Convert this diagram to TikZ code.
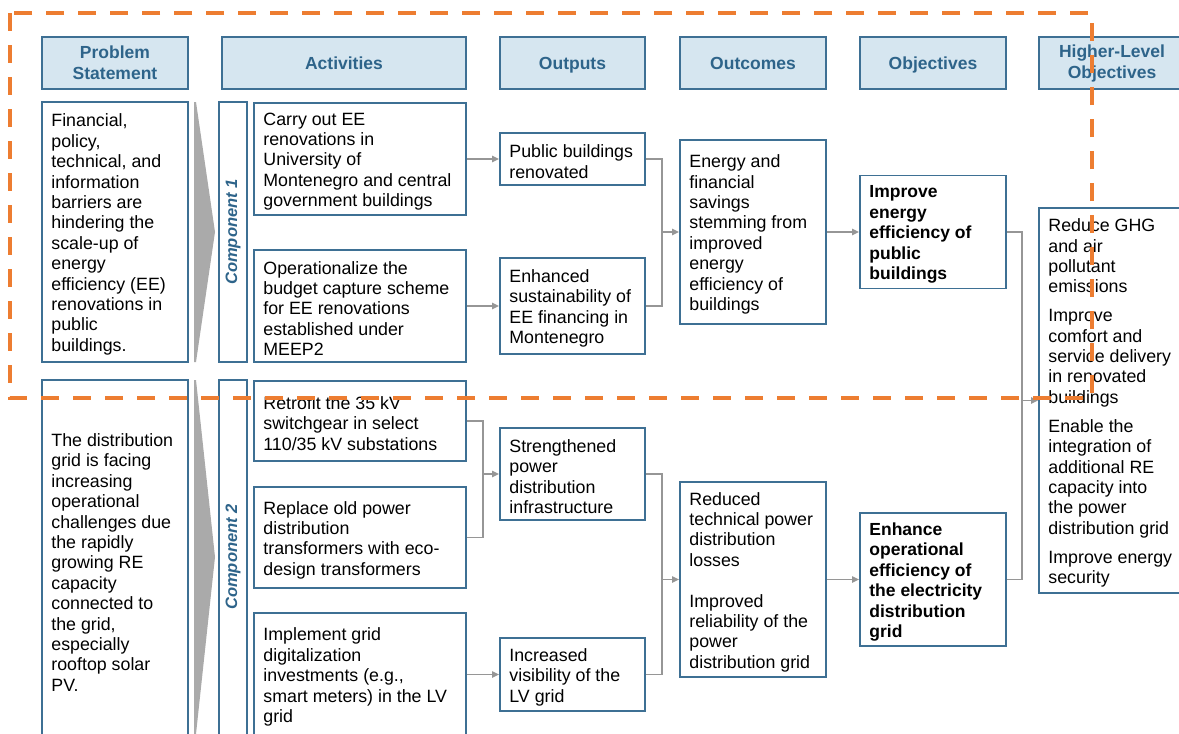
\documentclass[tikz,border=0pt]{standalone}
\usepackage{fontspec}
\setmainfont{Liberation Sans}
\usetikzlibrary{arrows.meta,positioning}
\definecolor{bxline}{RGB}{62,112,148}
\definecolor{hdfill}{RGB}{214,230,240}
\definecolor{hdtext}{RGB}{46,100,138}
\definecolor{cngrey}{RGB}{150,150,150}
\definecolor{orng}{RGB}{237,125,49}
\definecolor{chevgrey}{RGB}{170,170,170}
\begin{document}
\begin{tikzpicture}[x=1pt,y=-1pt,
 bx/.style={draw=bxline, line width=1.6pt, fill=white, rectangle, inner sep=0pt},
 hd/.style={bx, fill=hdfill, text=hdtext, font=\bfseries\fontsize{17.5}{21}\selectfont, align=center, minimum height=52pt},
 hdone/.style={hd, text height=12.6pt, text depth=0pt},
 tx/.style={anchor=west, align=left, inner sep=0pt, yshift=-2.5pt, font=\fontsize{17.8}{20.4}\selectfont},
 btx/.style={tx, font=\bfseries\fontsize{17.5}{20.4}\selectfont},
 cmp/.style={rotate=90, text=hdtext, inner sep=0pt, font=\bfseries\itshape\fontsize{16.5}{20}\selectfont},
 ln/.style={draw=cngrey, line width=1.7pt},
 ar/.style={ln, -{Triangle[length=7pt,width=6pt]}},
 chv/.style={fill=chevgrey, draw=none},
 orbox/.style={draw=orng, line width=3.5pt, dash pattern=on 18pt off 14pt}]
\useasboundingbox (0,0) rectangle (1179,734);
\clip (0,0) rectangle (1179,734);
\fill[white] (0,0) rectangle (1179,734);

% chevrons
\fill[chv] (194,102) -- (196,102) -- (215,232) -- (196,362) -- (194,362) -- cycle;
\fill[chv] (194,380) -- (196,380) -- (215,557) -- (196,734) -- (194,734) -- cycle;

% headers
\node[hd, minimum width=146pt] (hp) at (115,63) {Problem\\Statement};
\node[hdone, minimum width=244pt] (ha) at (344,63) {Activities};
\node[hdone, minimum width=145pt] (ho) at (572.5,63) {Outputs};
\node[hdone, minimum width=146pt] (hoc) at (753,63) {Outcomes};
\node[hdone, minimum width=146pt] (hob) at (933,63) {Objectives};
\node[hd, minimum width=146pt] (hh) at (1112,63) {Higher-Level\\Objectives};

% problem statements
\node[bx, minimum width=146pt, minimum height=260pt] (p1) at (115,232) {};
\node[tx, right=10pt of p1.west] (p1t) {Financial,\\policy,\\technical, and\\information\\barriers are\\hindering the\\scale-up of\\energy\\efficiency (EE)\\renovations in\\public\\buildings.};
\node[bx, minimum width=146pt, minimum height=360pt] (p2) at (115,560) {};
\node[tx, right=10pt of p2.west] (p2t) {The distribution\\grid is facing\\increasing\\operational\\challenges due\\the rapidly\\growing RE\\capacity\\connected to\\the grid,\\especially\\rooftop solar\\PV.};

% components
\node[bx, minimum width=28pt, minimum height=260pt] (c1) at (233,232) {};
\node[cmp] (c1t) at (233,232) {Component 1};
\node[bx, minimum width=28pt, minimum height=360pt] (c2) at (233,560) {};
\node[cmp] (c2t) at (233,557) {Component 2};

% activities
\node[bx, minimum width=212pt, minimum height=112pt] (a1) at (360,159) {};
\node[tx, right=10pt of a1.west] (a1t) {Carry out EE\\renovations in\\University of\\Montenegro and central\\government buildings};
\node[bx, minimum width=212pt, minimum height=112pt] (a2) at (360,306) {};
\node[tx, right=10pt of a2.west] (a2t) {Operationalize the\\budget capture scheme\\for EE renovations\\established under\\MEEP2};
\node[bx, minimum width=212pt, minimum height=80pt] (a3) at (360,421) {};
\node[tx, right=10pt of a3.west] (a3t) {Retrofit the 35 kV\\switchgear in select\\110/35 kV substations};
\node[bx, minimum width=212pt, minimum height=101pt] (a4) at (360,537.5) {};
\node[tx, right=10pt of a4.west] (a4t) {Replace old power\\distribution\\transformers with eco-\\design transformers};
\node[bx, minimum width=212pt, minimum height=123pt] (a5) at (360,674.5) {};
\node[tx, right=10pt of a5.west] (a5t) {Implement grid\\digitalization\\investments (e.g.,\\smart meters) in the LV\\grid};

% outputs
\node[bx, minimum width=145pt, minimum height=52pt] (o1) at (572.5,159) {};
\node[tx, right=10pt of o1.west] (o1t) {Public buildings\\renovated};
\node[bx, minimum width=145pt, minimum height=96pt] (o2) at (572.5,306) {};
\node[tx, right=10pt of o2.west] (o2t) {Enhanced\\sustainability of\\EE financing in\\Montenegro};
\node[bx, minimum width=145pt, minimum height=92pt] (o3) at (572.5,474) {};
\node[tx, right=10pt of o3.west] (o3t) {Strengthened\\power\\distribution\\infrastructure};
\node[bx, minimum width=145pt, minimum height=73pt] (o4) at (572.5,674.5) {};
\node[tx, right=10pt of o4.west] (o4t) {Increased\\visibility of the\\LV grid};

% outcomes
\node[bx, minimum width=146pt, minimum height=184pt] (oc1) at (753,232) {};
\node[tx, right=10pt of oc1.west] (oc1t) {Energy and\\financial\\savings\\stemming from\\improved\\energy\\efficiency of\\buildings};
\node[bx, minimum width=146pt, minimum height=195pt] (oc2) at (753,579.5) {};
\node[tx, right=10pt of oc2.west] (oc2t) {Reduced\\technical power\\distribution\\losses\\[20.4pt]Improved\\reliability of the\\power\\distribution grid};

% objectives
\node[bx, minimum width=146pt, minimum height=113pt] (ob1) at (933,232) {};
\node[btx, right=10pt of ob1.west] (ob1t) {Improve\\energy\\efficiency of\\public\\buildings};
\node[bx, minimum width=146pt, minimum height=133pt] (ob2) at (933,579.5) {};
\node[btx, right=10pt of ob2.west] (ob2t) {Enhance\\operational\\efficiency of\\the electricity\\distribution\\grid};

% higher-level objectives
\node[bx, minimum width=146pt, minimum height=385pt] (hl) at (1112,400.5) {};
\node[tx, right=10pt of hl.west] (hlt) {Reduce GHG\\and air\\pollutant\\emissions\\[8.5pt]Improve\\comfort and\\service delivery\\in renovated\\buildings\\[8.5pt]Enable the\\integration of\\additional RE\\capacity into\\the power\\distribution grid\\[8.5pt]Improve energy\\security};

% junctions
\coordinate (j1) at (662,232);
\coordinate (j2) at (662,579.5);
\coordinate (j3) at (483,474);
\coordinate (j4) at (1022,400.5);

% connectors
\draw[ar] (a1.east) -- (o1.west);
\draw[ar] (a2.east) -- (o2.west);
\draw[ln] (a3.east) -| (j3);
\draw[ln] (a4.east) -| (j3);
\draw[ar] (j3) -- (o3.west);
\draw[ar] (a5.east) -- (o4.west);
\draw[ln] (o1.east) -| (j1);
\draw[ln] (o2.east) -| (j1);
\draw[ar] (j1) -- (oc1.west);
\draw[ln] (o3.east) -| (j2);
\draw[ln] (o4.east) -| (j2);
\draw[ar] (j2) -- (oc2.west);
\draw[ar] (oc1.east) -- (ob1.west);
\draw[ar] (oc2.east) -- (ob2.west);
\draw[ln] (ob1.east) -| (j4);
\draw[ln] (ob2.east) -| (j4);
\draw[ar] (j4) -- (hl.west);

% orange dashed frame
\draw[orbox] (10,13) rectangle (1092,398);
\end{tikzpicture}
\end{document}
